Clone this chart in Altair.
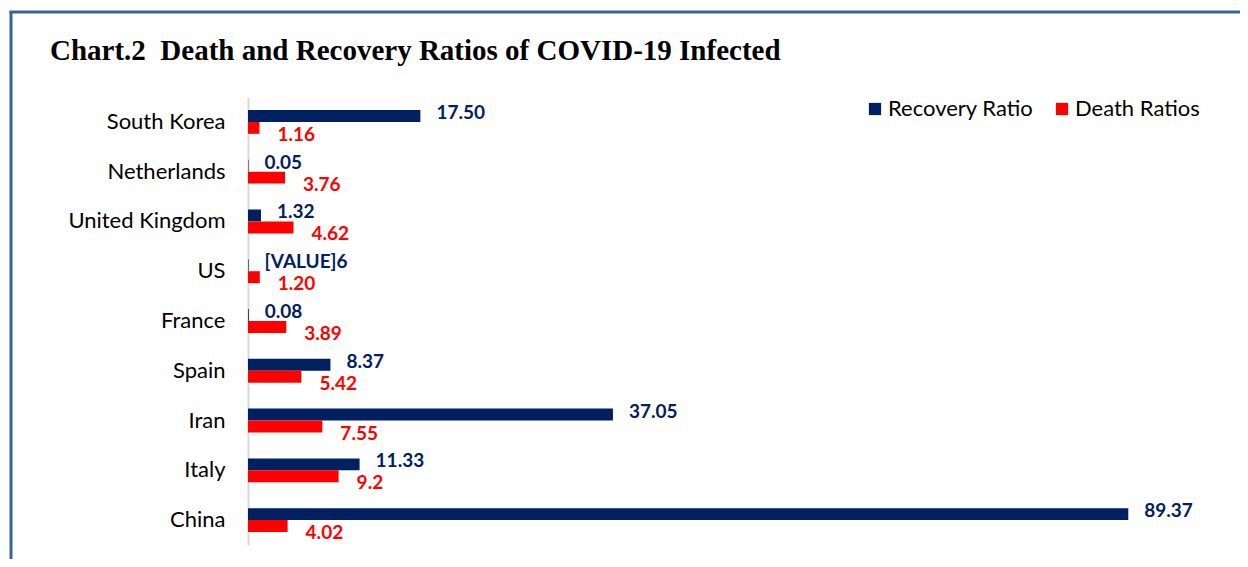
import altair as alt
import pandas as pd

countries = ["South Korea", "Netherlands", "United Kingdom", "US", "France",
             "Spain", "Iran", "Italy", "China"]
recovery = [17.50, 0.05, 1.32, 0.06, 0.08, 8.37, 37.05, 11.33, 89.37]
recovery_labels = ["17.50", "0.05", "1.32", "[VALUE]6", "0.08", "8.37", "37.05", "11.33", "89.37"]
death = [1.16, 3.76, 4.62, 1.20, 3.89, 5.42, 7.55, 9.2, 4.02]
death_labels = ["1.16", "3.76", "4.62", "1.20", "3.89", "5.42", "7.55", "9.2", "4.02"]
series = ["Recovery Ratio", "Death Ratios"]
colors = ["#002060", "#FF0000"]
title_text = "Chart.2\u00a0 Death and Recovery Ratios of COVID-19 Infected"

rows = []
for c, v, l in zip(countries, recovery, recovery_labels):
    rows.append({"country": c, "series": series[0], "value": v, "label": l})
for c, v, l in zip(countries, death, death_labels):
    rows.append({"country": c, "series": series[1], "value": v, "label": l})
df = pd.DataFrame(rows)

FONT = "Lato"
W, H = 985, 448

y_enc = alt.Y("country:N", sort=countries, title=None,
              scale=alt.Scale(paddingInner=0.52, paddingOuter=0.26),
              axis=alt.Axis(domainColor="#D9D9D9", domainWidth=2, ticks=False,
                            labelFont=FONT, labelFontSize=22, labelColor="#000000",
                            labelPadding=23, grid=False))
yoff_enc = alt.YOffset("series:N", sort=series,
                       scale=alt.Scale(paddingInner=0, paddingOuter=0))
x_enc = alt.X("value:Q", scale=alt.Scale(domain=[0, 100]), axis=None)
color_scale = alt.Scale(domain=series, range=colors)

bars = alt.Chart(df).mark_bar().encode(
    y=y_enc, yOffset=yoff_enc, x=x_enc,
    color=alt.Color("series:N", scale=color_scale, sort=series,
                    legend=alt.Legend(title=None, orient="none", legendX=616, legendY=1,
                                      direction="horizontal", symbolType="square",
                                      symbolSize=150, symbolStrokeWidth=0,
                                      labelFont=FONT, labelFontSize=22,
                                      labelColor="#000000", labelOffset=2,
                                      columnPadding=17))
)

rec_text = alt.Chart(df).transform_filter(
    alt.datum.series == series[0]
).mark_text(align="left", baseline="middle", dx=16, dy=-3,
            font=FONT, fontSize=19, fontWeight="bold").encode(
    y=y_enc, yOffset=yoff_enc, x=x_enc, text="label:N",
    color=alt.Color("series:N", scale=color_scale, legend=None)
)

death_text = alt.Chart(df).transform_filter(
    alt.datum.series == series[1]
).mark_text(align="left", baseline="middle", dx=18, dy=7,
            font=FONT, fontSize=19, fontWeight="bold").encode(
    y=y_enc, yOffset=yoff_enc, x=x_enc, text="label:N",
    color=alt.Color("series:N", scale=color_scale, legend=None)
)

frame_data = alt.Data(values=[{"k": 1}])
frame_left = alt.Chart(frame_data).mark_rule(color="#3A6496", strokeWidth=3).encode(
    x=alt.value(-237), y=alt.value(-86), y2=alt.value(462))
frame_top = alt.Chart(frame_data).mark_rule(color="#3A6496", strokeWidth=3).encode(
    y=alt.value(-85), x=alt.value(-238.5), x2=alt.value(992))

title = alt.Chart(alt.Data(values=[{"t": title_text}])).mark_text(
    align="left", baseline="alphabetic", font="Liberation Serif", fontSize=29,
    fontWeight="bold", color="#000000"
).encode(x=alt.value(-198), y=alt.value(-37), text="t:N")

chart = alt.layer(frame_left, frame_top, title, bars, rec_text, death_text).properties(
    width=W, height=H,
    autosize=alt.AutoSizeParams(type="none"),
    padding={"left": 240, "top": 89, "right": 7, "bottom": 14},
).configure_view(stroke=None)

chart.save("out.html", embed_options={"renderer": "svg", "actions": False})
